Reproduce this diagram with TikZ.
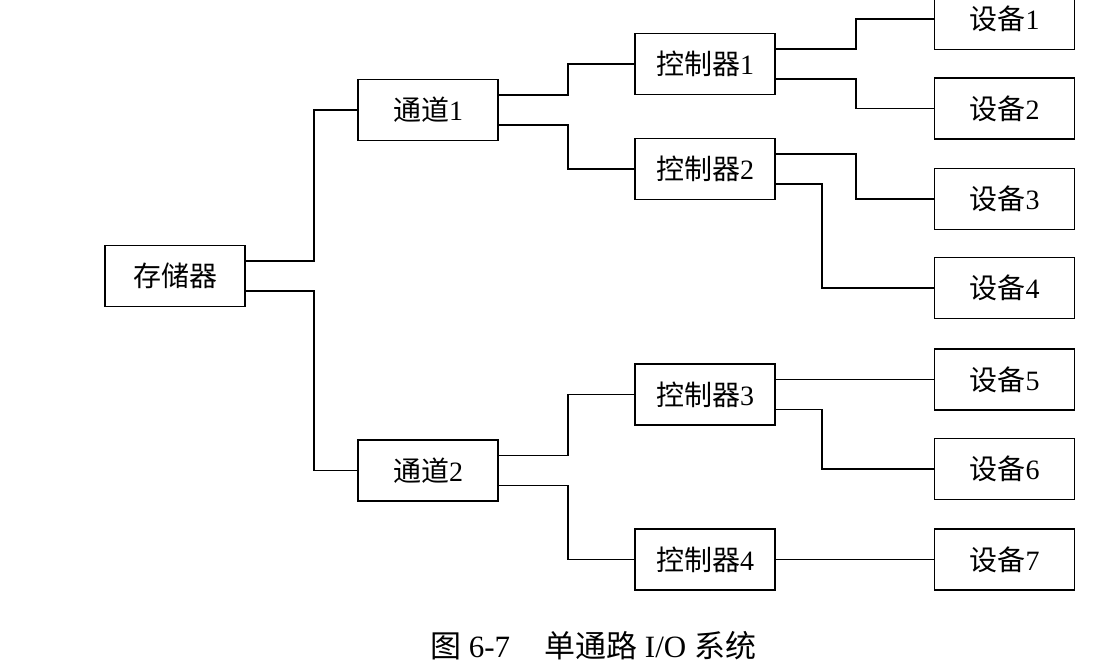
\documentclass[tikz,border=0pt]{standalone}
\usepackage{fontspec}
\setmainfont{Liberation Serif}
\newfontfamily\cjk{Noto Sans CJK SC}
\newcommand{\hanzi}[1]{{\cjk #1}}
\tikzset{
  unitbox/.style={draw, line width=1.9pt, minimum width=140pt, minimum height=61pt,
    inner sep=0pt, font=\fontsize{28}{32}\selectfont},
  link/.style={line width=1.3pt},
  caption/.style={font=\fontsize{31}{35}\selectfont}
}
\begin{document}
\begin{tikzpicture}[x=1pt, y=-1pt]
    \useasboundingbox[fill=white] (0,0) rectangle (1111,668);
    \node[unitbox] (mem) at (175,276) {\hanzi{存储器}};
    \node[unitbox] (ch1) at (428,110) {\hanzi{通道}1};
    \node[unitbox] (ch2) at (428,470.5) {\hanzi{通道}2};
    \node[unitbox] (c1) at (705,64) {\hanzi{控制器}1};
    \node[unitbox] (c2) at (705,169) {\hanzi{控制器}2};
    \node[unitbox] (c3) at (705,394.5) {\hanzi{控制器}3};
    \node[unitbox] (c4) at (705,559.5) {\hanzi{控制器}4};
    \node[unitbox] (d1) at (1004.5,19) {\hanzi{设备}1};
    \node[unitbox] (d2) at (1004.5,108.5) {\hanzi{设备}2};
    \node[unitbox] (d3) at (1004.5,199) {\hanzi{设备}3};
    \node[unitbox] (d4) at (1004.5,288) {\hanzi{设备}4};
    \node[unitbox] (d5) at (1004.5,379.5) {\hanzi{设备}5};
    \node[unitbox] (d6) at (1004.5,469) {\hanzi{设备}6};
    \node[unitbox] (d7) at (1004.5,559.5) {\hanzi{设备}7};
    \node[caption] (cap) at (593,646) {\hanzi{图} 6-7\hspace{1.1em}\hanzi{单通路} I/O \hanzi{系统}};
    \draw[link] ([yshift=15pt]mem.east) -- ++(68,0) |- (ch1.west);
    \draw[link] ([yshift=-15pt]mem.east) -- ++(68,0) |- (ch2.west);
    \draw[link] ([yshift=15pt]ch1.east) -- ++(69,0) |- (c1.west);
    \draw[link] ([yshift=-15pt]ch1.east) -- ++(69,0) |- (c2.west);
    \draw[link] ([yshift=15pt]ch2.east) -- ++(69,0) |- (c3.west);
    \draw[link] ([yshift=-15pt]ch2.east) -- ++(69,0) |- (c4.west);
    \draw[link] ([yshift=15pt]c1.east) -- ++(80,0) |- (d1.west);
    \draw[link] ([yshift=-15pt]c1.east) -- ++(80,0) |- (d2.west);
    \draw[link] ([yshift=15pt]c2.east) -- ++(80,0) |- (d3.west);
    \draw[link] ([yshift=-15pt]c2.east) -- ++(46,0) |- (d4.west);
    \draw[link] ([yshift=15pt]c3.east) -- (d5.west);
    \draw[link] ([yshift=-15pt]c3.east) -- ++(46,0) |- (d6.west);
    \draw[link] (c4.east) -- (d7.west);
  \end{tikzpicture}
\end{document}
